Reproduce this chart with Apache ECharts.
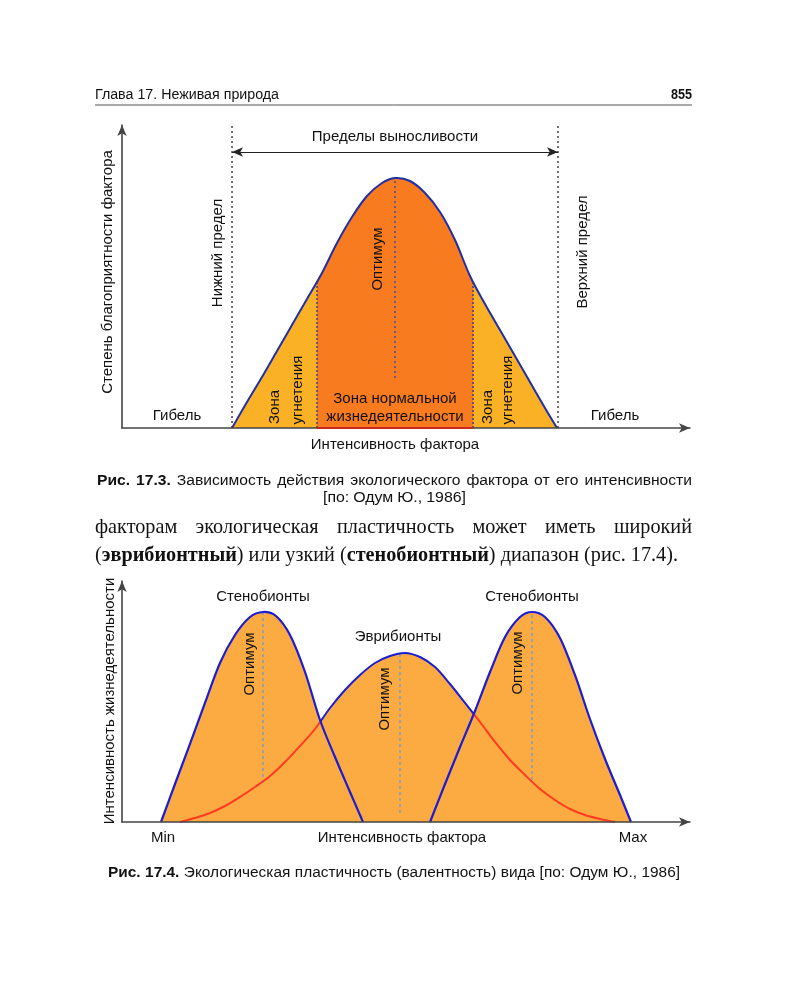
<!DOCTYPE html>
<html><head><meta charset="utf-8">
<script src="https://cdn.jsdelivr.net/npm/echarts@6/dist/echarts.min.js"></script>
<style>html,body{margin:0;padding:0;background:#fff}#c{width:800px;height:1000px}</style>
</head><body><div id="c"></div>
<script>
// ---------- Fig. 17.3 (x: intensity 0..100, y: favourability 0..100) ----------
const toleranceX = [19.37, 22.01, 24.65, 27.29, 29.93, 32.57, 35.21, 37.85, 40.49, 43.13, 45.77, 48.06, 50.70, 53.35, 55.99, 58.63, 61.27, 63.91, 66.55, 69.19, 71.83, 74.47, 76.58];
const toleranceY = [0, 8.58, 16.83, 25.41, 33.99, 42.57, 51.16, 61.06, 69.64, 76.57, 80.86, 82.51, 81.52, 77.56, 71.29, 62.05, 50.17, 40.92, 32.34, 23.76, 15.18, 6.60, 0];
const lowerLimit = 19.37;
const upperLimit = 76.76;
const zoneBounds = [34.33, 61.8];
const zoneHeights = [48.18, 47.85];
const optimum1 = [48.06, 16.5, 82.5];   // x, bottom, top
const arrowLevel = 91.1;

// ---------- Fig. 17.4 ----------
const stenoLeftX = [6.87, 9.33, 11.97, 14.61, 17.25, 19.89, 22.54, 24.82, 27.11, 29.58, 32.22, 34.86, 37.50, 40.14, 42.43];
const stenoLeftY = [0, 15.77, 32.37, 49.38, 65.98, 77.59, 85.06, 87.14, 85.48, 77.59, 62.24, 42.32, 26.97, 12.45, 0];
const euryX = [10.21, 12.85, 15.49, 18.13, 20.77, 23.42, 26.06, 28.70, 31.34, 33.98, 36.62, 39.26, 41.90, 44.54, 47.18, 49.82, 52.46, 55.11, 57.75, 60.39, 63.03, 65.67, 68.31, 70.95, 73.59, 76.23, 78.87, 81.51, 84.15, 86.80];
const euryY = [0, 1.66, 3.73, 6.64, 10.37, 14.52, 19.09, 24.90, 31.54, 38.59, 47.30, 54.77, 61.00, 65.98, 68.88, 70.12, 68.46, 64.32, 57.26, 49.38, 41.49, 33.20, 25.73, 19.50, 13.69, 9.13, 5.39, 2.90, 1.24, 0];
const stenoRightX = [54.23, 56.87, 59.51, 62.15, 64.79, 67.43, 70.07, 72.18, 74.47, 77.11, 79.75, 82.39, 85.04, 87.68, 89.61];
const stenoRightY = [0, 15.77, 31.12, 46.06, 62.24, 76.76, 85.06, 87.14, 85.06, 76.35, 61.00, 42.74, 26.14, 11.20, 0];
const crossings = [35.04, 61.9];
const optima2 = [[24.82, 16.18, 87.14], [48.94, 3.73, 70.12], [72.18, 17.43, 87.14]];
const tickLabels2 = ['Min', 'Max'];

const zip = (xs, ys) => xs.map((x, i) => [x, ys[i]]);
const vline = (o) => [[o[0], o[1]], [o[0], o[2]]];

// ---------- text helpers ----------
const SANS = '"Liberation Sans", Arial, sans-serif';
const SERIF = '"Liberation Serif", "Times New Roman", serif';
const ctx = document.createElement('canvas').getContext('2d');
function mw(t, f) { ctx.font = f; return ctx.measureText(t).width; }
function txt(t, x, y, opt) {
  opt = opt || {};
  const f = opt.font || ('15px ' + SANS);
  return {
    type: 'text', x: x, y: y, rotation: opt.rot || 0, scaleX: opt.sx || 1, silent: true, z: 100,
    style: { text: t, font: f, fill: opt.color || '#111', align: opt.align || 'center', verticalAlign: 'middle',
             textAlign: opt.align || 'center', textVerticalAlign: 'middle' }
  };
}
function lineEls(words, x0, x1, yc, size, family, sx, gap) {
  const fontOf = b => (b ? 'bold ' : '') + size + 'px ' + family;
  const raw = words.map(wd => wd.reduce((s, [t, b]) => s + mw(t, fontOf(b)), 0));
  const rawTotal = raw.reduce((a, b) => a + b, 0);
  if (sx == null) sx = (x1 - x0 - gap * (words.length - 1)) / rawTotal;
  const g = words.length > 1 ? (x1 - x0 - rawTotal * sx) / (words.length - 1) : 0;
  const els = [];
  let x = x0;
  words.forEach((wd, i) => {
    let xx = x;
    wd.forEach(([t, b]) => {
      els.push(txt(t, xx, yc, { font: fontOf(b), align: 'left', sx: sx }));
      xx += mw(t, fontOf(b)) * sx;
    });
    x += raw[i] * sx + g;
  });
  return els;
}
const W = (s, b) => s.split(' ').map(t => [[t, b ? 1 : 0]]);

const graphics = [];
graphics.push(...lineEls(W('Глава 17. Неживая природа'), 95, 279, 95, 14, SANS, null, 4));
graphics.push(txt('855', 692, 95, { font: 'bold 14px ' + SANS, align: 'right', sx: 0.9 }));
graphics.push({ type: 'line', silent: true, shape: { x1: 95, y1: 105, x2: 692, y2: 105 }, style: { stroke: '#555', lineWidth: 1 } });
graphics.push(...lineEls(W('Рис. 17.3.', 1).concat(W('Зависимость действия экологического фактора от его интенсивности')), 97, 692, 481, 14, SANS, null, 6));
graphics.push(...lineEls(W('[по: Одум Ю., 1986]'), 323, 466, 498, 14, SANS, null, 4));
const bodyL2 = [[['(', 0], ['эврибионтный', 1], [')', 0]], [['или', 0]], [['узкий', 0]], [['(', 0], ['стенобионтный', 1], [')', 0]], [['диапазон', 0]], [['(рис.', 0]], [['17.4).', 0]]];
let bodySize = 20;
{
  const nat = bodyL2.reduce((s, wd) => s + wd.reduce((a, [t, b]) => a + mw(t, (b ? 'bold ' : '') + '20px ' + SERIF), 0), 0);
  bodySize = 20 * (678 - 95 - 5 * 6) / nat;
}
graphics.push(...lineEls(W('факторам экологическая пластичность может иметь широкий'), 95, 692, 528, bodySize.toFixed(2), SERIF, 1, 0));
graphics.push(...lineEls(bodyL2, 95, 678, 556, bodySize.toFixed(2), SERIF, 1, 0));
graphics.push(...lineEls(W('Рис. 17.4.', 1).concat(W('Экологическая пластичность (валентность) вида [по: Одум Ю., 1986]')), 108, 680, 873, 14, SANS, null, 4.5));

const R = Math.PI / 2;
graphics.push(
  txt('Пределы выносливости', 395, 137),
  txt('Степень благоприятности фактора', 108, 272, { rot: R }),
  txt('Нижний предел', 218, 253, { rot: R }),
  txt('Верхний предел', 583, 252, { rot: R }),
  txt('Оптимум', 378, 259, { rot: R }),
  txt('Зона', 275, 407, { rot: R }),
  txt('угнетения', 298, 390, { rot: R }),
  txt('Зона', 488, 407, { rot: R }),
  txt('угнетения', 508, 390, { rot: R }),
  txt('Зона нормальной', 395, 399),
  txt('жизнедеятельности', 395, 417),
  txt('Гибель', 177, 416),
  txt('Гибель', 615, 416),
  txt('Интенсивность фактора', 395, 445)
);
graphics.push(
  txt('Интенсивность жизнедеятельности', 110, 701, { rot: R }),
  txt('Стенобионты', 263, 597),
  txt('Стенобионты', 532, 597),
  txt('Эврибионты', 398, 637),
  txt('Оптимум', 250, 664, { rot: R }),
  txt('Оптимум', 385, 699, { rot: R }),
  txt('Оптимум', 518, 663, { rot: R }),
  txt(tickLabels2[0], 163, 838),
  txt('Интенсивность фактора', 402, 838),
  txt(tickLabels2[1], 633, 838)
);

// ---------- smooth curve rendering through the axes (api.coord) ----------
function splinePath(pts) {
  let d = 'M' + pts[0][0] + ',' + pts[0][1];
  const n = pts.length;
  for (let i = 0; i < n - 1; i++) {
    const p0 = pts[Math.max(i - 1, 0)], p1 = pts[i], p2 = pts[i + 1], p3 = pts[Math.min(i + 2, n - 1)];
    const t = 1 / 6;
    const c1 = [p1[0] + (p2[0] - p0[0]) * t, p1[1] + (p2[1] - p0[1]) * t];
    const c2 = [p2[0] - (p3[0] - p1[0]) * t, p2[1] - (p3[1] - p1[1]) * t];
    d += ' C' + c1[0] + ',' + c1[1] + ' ' + c2[0] + ',' + c2[1] + ' ' + p2[0] + ',' + p2[1];
  }
  return d;
}
function hardGradient(api, bounds, colors, xa, xb) {
  const p0 = api.coord([xa, 0])[0], p1 = api.coord([xb, 0])[0];
  const stops = [{ offset: 0, color: colors[0] }];
  bounds.forEach((b, i) => {
    const o = Math.min(1, Math.max(0, (api.coord([b, 0])[0] - p0) / (p1 - p0)));
    stops.push({ offset: o, color: colors[i] }, { offset: o, color: colors[i + 1] });
  });
  stops.push({ offset: 1, color: colors[colors.length - 1] });
  return new echarts.graphic.LinearGradient(p0, 0, p1, 0, stops, true);
}
// mode: 'area' | 'line'
function curveSeries(gi, xs, ys, z, mode, fill, stroke, width) {
  return {
    type: 'custom', coordinateSystem: 'cartesian2d', xAxisIndex: gi, yAxisIndex: gi, z: z, silent: true,
    animation: false, clip: false, data: zip(xs, ys), encode: { x: 0, y: 1 },
    renderItem: function (params, api) {
      if (params.dataIndex !== 0) return null;
      const pts = xs.map((x, i) => api.coord([x, ys[i]]));
      const d = splinePath(pts);
      const children = [];
      if (mode.indexOf('area') >= 0) {
        const base = api.coord([xs[0], 0])[1];
        const f = typeof fill === 'function' ? fill(api, xs[0], xs[xs.length - 1]) : fill;
        children.push({ type: 'path', shape: { pathData: d + ' L' + pts[pts.length - 1][0] + ',' + base + ' L' + pts[0][0] + ',' + base + ' Z' },
          style: { fill: f, stroke: null, lineWidth: 0 } });
      }
      if (mode.indexOf('line') >= 0) {
        const s = typeof stroke === 'function' ? stroke(api, xs[0], xs[xs.length - 1]) : stroke;
        children.push({ type: 'path', shape: { pathData: d }, style: { fill: 'none', stroke: s, lineWidth: width, lineJoin: 'round' } });
      }
      return { type: 'group', children: children };
    }
  };
}

const axisBase = (gi) => ({
  type: 'value', gridIndex: gi, min: 0, max: 100, z: 4,
  axisLine: { show: true, symbol: ['none', 'arrow'], symbolSize: [7, 11], lineStyle: { color: '#444', width: 1.6 } },
  axisTick: { show: false }, axisLabel: { show: false }, splitLine: { show: false }
});
const S = (gi, data, extra) => Object.assign({
  type: 'line', xAxisIndex: gi, yAxisIndex: gi, data: data, symbol: 'none', silent: true, animation: false
}, extra);

const ORANGE2 = '#FBAB42';
const BLUE2 = '#1C1CD4';
const RED2 = '#FF3A20';
const zoneFill = (api, a, b) => hardGradient(api, zoneBounds, ['#FBB126', '#F97B1F', '#FBB126'], a, b);
const euryStroke = (api, a, b) => hardGradient(api, crossings, [RED2, BLUE2, RED2], a, b);

const series = [
  curveSeries(0, toleranceX, toleranceY, 2, 'area+line', zoneFill, '#1F2FA8', 2),
  S(0, [[lowerLimit, 0], [lowerLimit, 100]], {
    lineStyle: { color: '#333', width: 1.4, type: [2, 3] }, z: 3,
    markLine: { silent: true, symbol: ['arrow', 'arrow'], symbolSize: [7, 11], label: { show: false },
      lineStyle: { color: '#222', width: 1.2, type: 'solid' }, animation: false,
      data: [[{ coord: [lowerLimit, arrowLevel] }, { coord: [upperLimit, arrowLevel] }]] }
  }),
  S(0, [[upperLimit, 0], [upperLimit, 100]], { lineStyle: { color: '#333', width: 1.4, type: [2, 3] }, z: 3 }),
  S(0, [[zoneBounds[0], 0], [zoneBounds[0], zoneHeights[0]]], { lineStyle: { color: '#2A3A9E', width: 1.4, type: [2, 2] }, z: 3 }),
  S(0, [[zoneBounds[1], 0], [zoneBounds[1], zoneHeights[1]]], { lineStyle: { color: '#2A3A9E', width: 1.4, type: [2, 2] }, z: 3 }),
  S(0, vline(optimum1), { lineStyle: { color: '#3A48A8', width: 1.4, type: [2, 3] }, z: 3 }),
  S(0, [[zoneBounds[0], 0], [zoneBounds[1], 0]], { lineStyle: { color: '#C8281E', width: 2 }, z: 6 }),
  // Fig 17.4: fills, then eury line, then steno lines
  curveSeries(1, stenoLeftX, stenoLeftY, 1, 'area', ORANGE2),
  curveSeries(1, euryX, euryY, 1, 'area', ORANGE2),
  curveSeries(1, stenoRightX, stenoRightY, 1, 'area', ORANGE2),
  ...optima2.map(o => S(1, vline(o), { lineStyle: { color: '#7E9CC8', width: 1.5, type: [3, 3] }, z: 1.5 })),
  curveSeries(1, euryX, euryY, 2, 'line', null, euryStroke, 2),
  curveSeries(1, stenoLeftX, stenoLeftY, 3, 'line', null, BLUE2, 2.2),
  curveSeries(1, stenoRightX, stenoRightY, 3, 'line', null, BLUE2, 2.2)
];

const chart = echarts.init(document.getElementById('c'), null, { renderer: 'canvas' });
chart.setOption({
  backgroundColor: '#fff',
  animation: false,
  grid: [
    { left: 122, top: 125, width: 568, height: 303 },
    { left: 122, top: 581, width: 568, height: 241 }
  ],
  xAxis: [axisBase(0), axisBase(1)],
  yAxis: [axisBase(0), axisBase(1)],
  series: series,
  graphic: { elements: graphics }
});
</script></body></html>
